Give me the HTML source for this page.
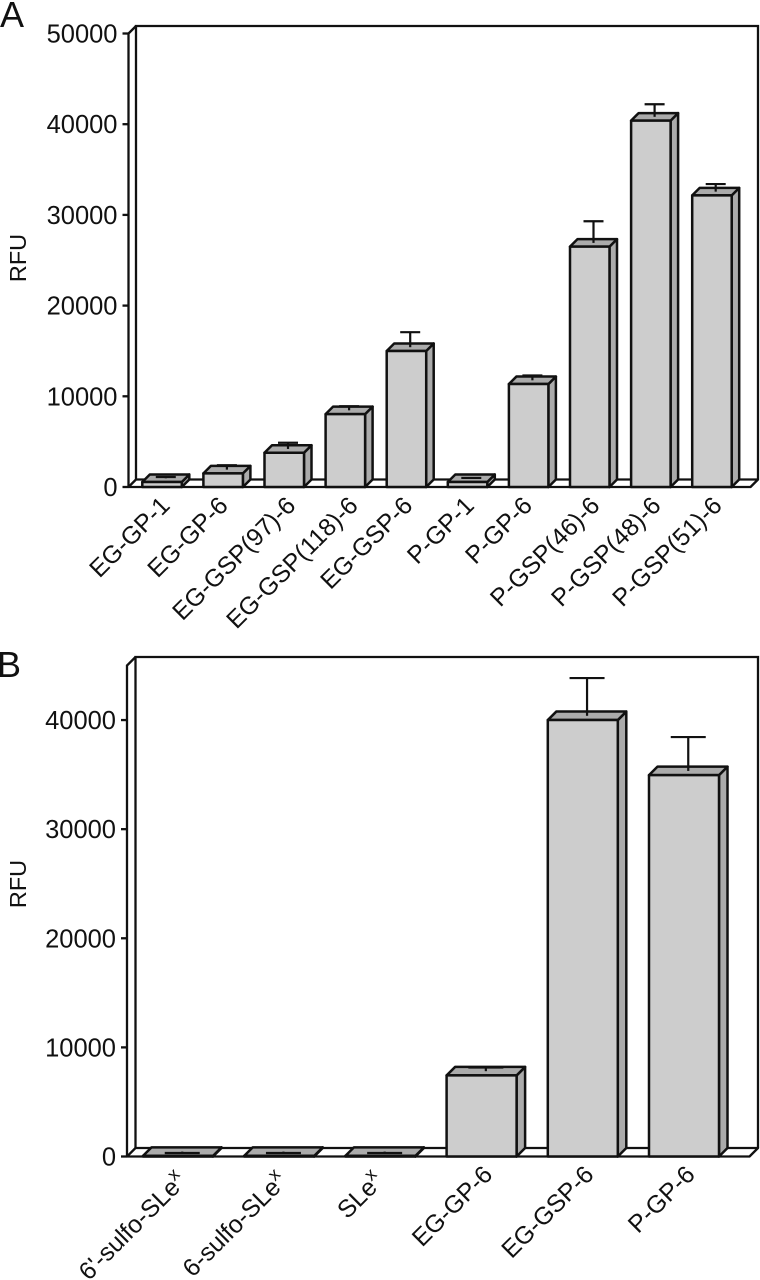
<!DOCTYPE html>
<html lang="en">
<head>
<meta charset="utf-8">
<title>RFU bar charts</title>
<style>
html,body{margin:0;padding:0;background:#fff;width:760px;height:1280px;overflow:hidden}
svg{display:block}
text{font-family:"Liberation Sans",sans-serif;fill:#111}
</style>
</head>
<body>
<svg id="chart" xmlns="http://www.w3.org/2000/svg" width="760" height="1280" viewBox="0 0 760 1280"></svg>
<script>
const categoriesA = ['EG-GP-1','EG-GP-6','EG-GSP(97)-6','EG-GSP(118)-6','EG-GSP-6','P-GP-1','P-GP-6','P-GSP(46)-6','P-GSP(48)-6','P-GSP(51)-6'];
const valuesA = [550,1500,3780,8040,15000,550,11350,26500,40400,32150];
const errorTopsA = [1100,2400,4880,8900,17070,1000,12300,29300,42200,33400];
const tickLabelsA = [0,10000,20000,30000,40000,50000];
const domainMaxA = 50000;

const categoriesB = ["6'-sulfo-SLe^x",'6-sulfo-SLe^x','SLe^x','EG-GP-6','EG-GSP-6','P-GP-6'];
const valuesB = [60,60,60,7430,40000,34950];
const errorTopsB = [320,320,320,8160,43850,38440];
const tickLabelsB = [0,10000,20000,30000,40000];
const domainMaxB = 45000;

const svg = document.getElementById('chart');
const NS = 'http://www.w3.org/2000/svg';
const FRONT = '#cdcdcd', DARK = '#ababab', INK = '#111';
const AXIS_W = 2.3, BAR_W = 2.5;

function make(tag, attrs, parent) {
  const el = document.createElementNS(NS, tag);
  for (const k in attrs) el.setAttribute(k, attrs[k]);
  parent.appendChild(el);
  return el;
}

function drawPanel(p) {
  const g = make('g', {}, svg);
  
  
  const yScale = v => p.y0 - (v / p.max) * (p.y0 - p.yTop);
  const xScale = i => p.barStart + i * p.barStep;
  const d = p.depth;
  const yTopBack = p.yTop - d;
  const yFloorBack = p.y0 - d;
  const xBack = p.xAxis + d;

  const wall = make('polyline', {points:`${xBack},${yFloorBack} ${xBack},${yTopBack} ${p.xRight},${yTopBack} ${p.xRight},${yFloorBack}`, fill:'none', stroke:INK, 'stroke-width':AXIS_W}, g);
  
  

  const floor = make('polygon', {points:`${p.xAxis},${p.y0} ${xBack},${yFloorBack} ${p.xRight},${yFloorBack} ${p.xRight - d},${p.y0}`, fill:'#fff', stroke:INK, 'stroke-width':AXIS_W, 'stroke-linejoin':'round'}, g);
  
  

  const side = make('polyline', {points:`${p.xAxis},${p.y0} ${p.xAxis},${p.yTop} ${xBack},${yTopBack}`, fill:'none', stroke:INK, 'stroke-width':AXIS_W}, g);
  
  

  p.ticks.forEach(t => {
    const y = yScale(t);
    const tick = make('line', {x1:p.xAxis - 6, x2:p.xAxis, y1:y, y2:y, stroke:INK, 'stroke-width':AXIS_W}, g);
    
    
    const label = make('text', {x:p.xAxis - 11, y:y + 9, 'text-anchor':'end', 'font-size':25.5}, g);
    label.textContent = String(t);
    
    
  });

  p.categories.forEach((c, i) => {
    const x = xScale(i), w = p.barWidth, v = p.values[i], y = yScale(v);
    const bar = make('g', {stroke:INK, 'stroke-width':BAR_W, 'stroke-linejoin':'round'}, g);
    
    
    make('polygon', {points:`${x + w},${y} ${x + w + d},${y - d} ${x + w + d},${p.y0 - d} ${x + w},${p.y0}`, fill:DARK}, bar);
    make('polygon', {points:`${x},${y} ${x + d},${y - d} ${x + w + d},${y - d} ${x + w},${y}`, fill:DARK}, bar);
    make('rect', {x:x, y:y, width:w, height:p.y0 - y, fill:FRONT}, bar);

    const ex = x + (w + d) / 2, ey = yScale(p.errors[i]), half = p.capHalf;
    const stem = make('line', {x1:ex, x2:ex, y1:y - d / 2, y2:ey, stroke:INK, 'stroke-width':2.2}, g);
    
    
    const cap = make('line', {x1:ex - half, x2:ex + half, y1:ey, y2:ey, stroke:INK, 'stroke-width':2.2}, g);
    
    

    const parts = c.split('^');
    const anchor = p.labelAnchor(parts[0].length + (parts[1] ? 1 : 0), !!parts[1]);
    const endsInOne = parts[0].endsWith('-1') ? 3 : 0;
    const lx = x + w / 2 + anchor.dx + endsInOne, ly = anchor.y;
    const label = make('text', {x:lx, y:ly, 'text-anchor':'end', 'font-size':24.7, transform:`rotate(-45 ${lx} ${ly})`}, g);
    
    
    label.appendChild(document.createTextNode(parts[0]));
    if (parts[1]) {
      const sup = make('tspan', {dy:-10, 'font-size':18}, label);
      sup.textContent = parts[1];
    }
  });

  const cy = p.titleY;
  const title = make('text', {x:26, y:cy, 'text-anchor':'middle', 'font-size':23.5, transform:`rotate(-90 26 ${cy})`}, g);
  title.textContent = 'RFU';
  
  

  const letter = make('text', {x:p.letterX, y:p.letterY, 'font-size':36}, g);
  letter.textContent = p.letter;
  
  
}

drawPanel({
  id:'panel-a', letter:'A', letterX:0, letterY:27,
  categories:categoriesA, values:valuesA, errors:errorTopsA, ticks:tickLabelsA, max:domainMaxA,
  y0:487, yTop:33.5, xAxis:128.5, xRight:758, depth:7.5,
  barStart:142.3, barStep:61.1, barWidth:39.5, capHalf:10,
  labelAnchor:(len) => ({dx:-2.9 + 1.3 * len, y:507}), titleY:258
});
drawPanel({
  id:'panel-b', letter:'B', letterX:-3, letterY:677,
  categories:categoriesB, values:valuesB, errors:errorTopsB, ticks:tickLabelsB, max:domainMaxB,
  y0:1156.5, yTop:665.5, xAxis:127, xRight:758, depth:8.5,
  barStart:143, barStep:101.2, barWidth:70, capHalf:17.5,
  labelAnchor:(len, hasSup) => hasSup ? {dx:2 + 0.6 * len, y:1182.5} : {dx:12.3, y:1176}, titleY:884
});
</script>
</body>
</html>
